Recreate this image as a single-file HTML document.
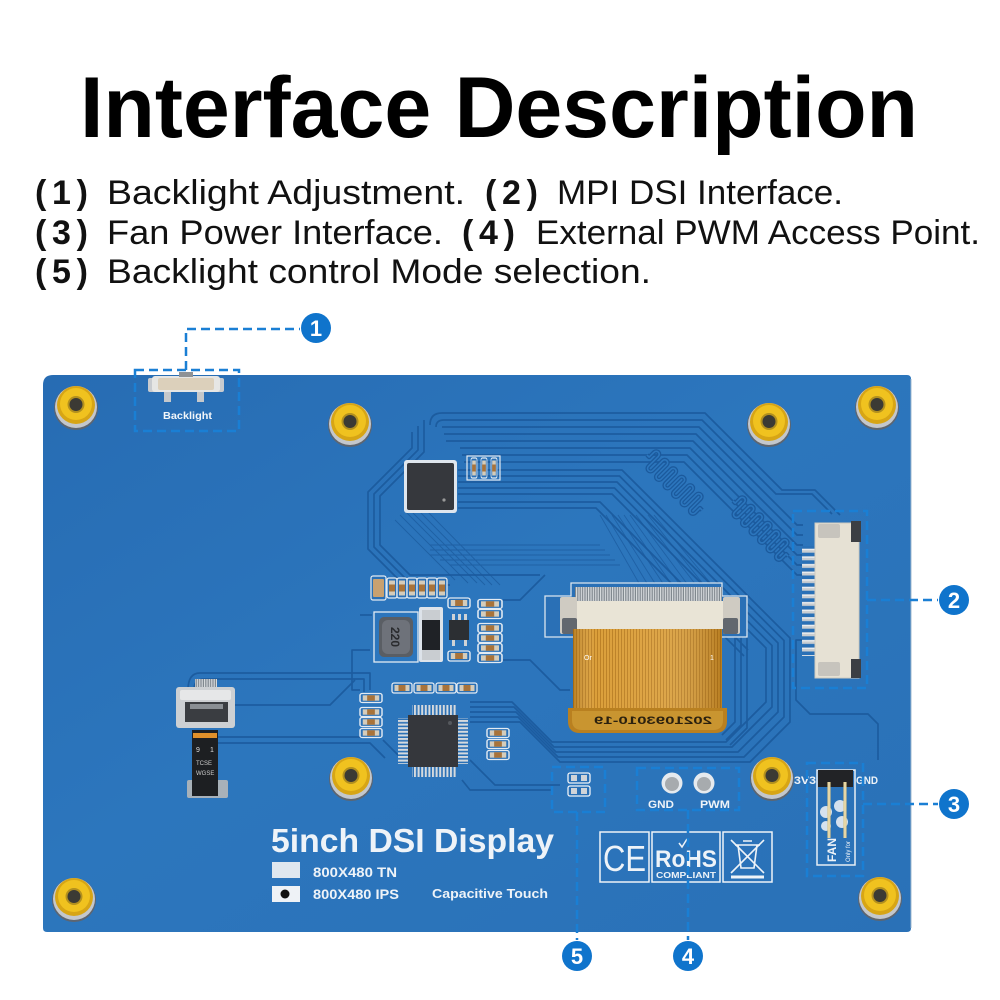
<!DOCTYPE html>
<html><head><meta charset="utf-8">
<style>html,body{margin:0;padding:0;background:#fff}svg{display:block}</style>
</head>
<body>
<svg width="1000" height="1000" viewBox="0 0 1000 1000" xmlns="http://www.w3.org/2000/svg" font-family="'Liberation Sans', sans-serif">
<defs>
  <linearGradient id="bg" x1="0" y1="0" x2="1" y2="1">
    <stop offset="0" stop-color="#276cb3"/>
    <stop offset="0.45" stop-color="#2c76bd"/>
    <stop offset="1" stop-color="#2a71b7"/>
  </linearGradient>
  <linearGradient id="ribShade" x1="0" x2="1" y1="0" y2="0">
    <stop offset="0" stop-color="#7a4a08" stop-opacity="0.35"/>
    <stop offset="0.15" stop-color="#fff" stop-opacity="0.05"/>
    <stop offset="0.6" stop-color="#fff" stop-opacity="0.12"/>
    <stop offset="1" stop-color="#7a4a08" stop-opacity="0.35"/>
  </linearGradient>
  <pattern id="rs" width="3" height="10" patternUnits="userSpaceOnUse">
    <rect width="3" height="10" fill="#d99a30"/><rect width="1" height="10" fill="#b87a1a"/>
  </pattern>
  <pattern id="pv" width="3.6" height="10" patternUnits="userSpaceOnUse">
    <rect width="3.6" height="10" fill="#2a70b6"/><rect width="2" height="10" fill="#d5dade"/>
  </pattern>
  <pattern id="ph" width="10" height="3.6" patternUnits="userSpaceOnUse">
    <rect width="10" height="3.6" fill="#2a70b6"/><rect width="10" height="2" fill="#d5dade"/>
  </pattern>
  <pattern id="fp" width="2.4" height="10" patternUnits="userSpaceOnUse">
    <rect width="2.4" height="10" fill="#7f868d"/><rect width="1.2" height="10" fill="#d7dbde"/>
  </pattern>
  <pattern id="cp" width="12" height="7.6" patternUnits="userSpaceOnUse">
    <rect width="12" height="7.6" fill="#2a70b6"/><rect width="12" height="4" y="1.5" fill="#c9cdd1"/><rect width="12" height="1.2" y="1.8" fill="#eef0f2"/>
  </pattern>
  <g id="so">
    <circle cx="0" cy="2" r="22" fill="#5d6570"/>
    <circle cx="0" cy="1" r="21" fill="#c3c7cc"/>
    <circle cx="0" cy="-1" r="19" fill="#d7a515"/>
    <circle cx="0" cy="-2" r="16" fill="#f0c21f"/>
    <circle cx="0" cy="-1.5" r="8.5" fill="#b3901e"/>
    <circle cx="0" cy="-1.5" r="6.5" fill="#3b3a34"/>
  </g>
  <g id="r">
    <rect x="-10" y="-5" width="20" height="10" rx="2" fill="#2a70b6" stroke="#e3ebf3" stroke-width="1.3"/>
    <rect x="-7.5" y="-3" width="15" height="6" fill="#d4ccbb"/>
    <rect x="-3.5" y="-3" width="7" height="6" fill="#a8733a"/>
  </g>
  <path id="mnd" d="M0 0 h3 v-7 a3 3 0 0 1 6 0 v14 a3 3 0 0 0 6 0 v-14 a3 3 0 0 1 6 0 v14 a3 3 0 0 0 6 0 v-14 a3 3 0 0 1 6 0 v14 a3 3 0 0 0 6 0 v-14 a3 3 0 0 1 6 0 v14 a3 3 0 0 0 6 0 v-14 a3 3 0 0 1 6 0 v14 a3 3 0 0 0 6 0 v-14 a3 3 0 0 1 6 0 v14 a3 3 0 0 0 6 0 v-7 h3"/>
</defs>

<!-- Title -->
<text x="80" y="137" font-size="86" font-weight="bold" fill="#000" textLength="838" lengthAdjust="spacingAndGlyphs">Interface Description</text>

<!-- Description lines -->
<g font-size="34" fill="#111">
  <text x="35" y="204" font-weight="bold" textLength="53" lengthAdjust="spacing">(1)</text>
  <text x="107" y="204" textLength="358" lengthAdjust="spacingAndGlyphs">Backlight Adjustment.</text>
  <text x="485" y="204" font-weight="bold" textLength="53" lengthAdjust="spacing">(2)</text>
  <text x="557" y="204" textLength="286" lengthAdjust="spacingAndGlyphs">MPI DSI Interface.</text>

  <text x="35" y="244" font-weight="bold" textLength="53" lengthAdjust="spacing">(3)</text>
  <text x="107" y="244" textLength="336" lengthAdjust="spacingAndGlyphs">Fan Power Interface.</text>
  <text x="462" y="244" font-weight="bold" textLength="53" lengthAdjust="spacing">(4)</text>
  <text x="536" y="244" textLength="444" lengthAdjust="spacingAndGlyphs">External PWM Access Point.</text>

  <text x="35" y="283" font-weight="bold" textLength="53" lengthAdjust="spacing">(5)</text>
  <text x="107" y="283" textLength="544" lengthAdjust="spacingAndGlyphs">Backlight control Mode selection.</text>
</g>

<!-- Board -->
<path d="M53 375 H907 Q911 375 911 379 V928 Q911 932 907 932 H47 Q43 932 43 928 V385 Q43 375 53 375 Z" fill="url(#bg)"/>
<path d="M911 379 V928" stroke="#9fb8cf" stroke-width="1"/>

<!-- Traces -->
<g fill="none" stroke="#1b5a9d" stroke-width="1.7" stroke-linejoin="round" opacity="0.9">
  <path d="M430 425 Q430 413 442 413 H705 L782 490 H815 L840 515"/>
  <path d="M436 427 Q436 420 444 420 H702 L776 494 H812 L832 514"/>
  <path d="M442 427 H699 L797 525 H803"/>
  <path d="M444 434 H696 L797 535 H803"/>
  <path d="M446 441 H693 L797 545 H803"/>
  <path d="M460 448 H690 L797 555 H803"/>
  <path d="M462 455 H687 L797 565 H803"/>
  <path d="M464 462 H684 L797 575 H803"/>
  <path d="M458 470 H622 L790 638 V722 L750 762 H560 L520 722 H470"/>
  <path d="M458 476 H619.5 L784 640.5 V717 L744 757 H558 L518 717 H470"/>
  <path d="M458 482 H617 L778 643 V712 L738 752 H556 L516 712 H470"/>
  <path d="M458 488 H614.5 L772 645.5 V707 L732 747 H554 L514 707 H470"/>
  <path d="M458 494 H612 L766 648 V702 L726 742 H552 L512 702 H470"/>
  <path d="M458 502 H600 L748 650"/>
  <path d="M458 508 H596 L744 656"/>
  <path d="M424 420 V452 L380 496 V545 L410 575 H540"/>
  <path d="M418 426 V450 L374 494 V547 L406 579"/>
  <path d="M412 432 V448 L368 492 V549 L404 585 H450"/>
  <path d="M735 637 V722 L722 735"/>
  <path d="M741 637 V725 L726 740"/>
  <path d="M747 637 V728 L730 745"/>
  <path d="M803 640 H796 L796 700 L810 714 H868 L878 724 V760"/>
  <path d="M188 690 Q188 673 200 673 H370 V690"/>
  <path d="M194 690 Q194 679 204 679 H364 V692"/>
  <path d="M218 737 H370"/>
  <path d="M218 743 H370 L385 758"/>
  <path d="M235 705 H330 L355 680"/>
  <path d="M383 740 L398 755 H402"/>
  <path d="M470 760 L495 785 H560"/>
  <path d="M462 780 L470 790 H552"/>
  <path d="M360 690 H352 V650 H370"/>
  <path d="M360 615 H372"/>
  <path d="M503 600 H520 L545 575"/>
  <path d="M503 660 H530 L560 690 H570"/>
</g>
<!-- fan-out fine lines -->
<g stroke="#1b5a9d" stroke-width="0.9" opacity="0.75">
  <path d="M395 520 L455 580"/><path d="M400 515 L468 583"/><path d="M406 512 L477 583"/>
  <path d="M412 512 L485 585"/><path d="M420 512 L492 585"/><path d="M428 512 L500 585"/>
  <path d="M600 515 L640 585"/><path d="M606 515 L648 585"/><path d="M612 515 L656 585"/>
  <path d="M618 515 L664 585"/><path d="M624 515 L672 585"/><path d="M630 515 L680 585"/>
  <path d="M636 515 L688 585"/><path d="M642 515 L696 585"/><path d="M648 515 L704 585"/>
  <path d="M654 515 L712 585"/><path d="M430 545 H600"/><path d="M430 550 H605"/><path d="M430 555 H610"/>
  <path d="M440 560 H615"/><path d="M450 565 H620"/>
</g>
<!-- serpentines (rounded meanders) -->
<g fill="none" stroke-linejoin="round">
  <use href="#mnd" transform="translate(647,455) rotate(45)" stroke="#1b5a9d" stroke-width="4.2"/>
  <use href="#mnd" transform="translate(647,455) rotate(45)" stroke="#2c76bd" stroke-width="1.6"/>
  <use href="#mnd" transform="translate(733,501) rotate(45)" stroke="#1b5a9d" stroke-width="4.2"/>
  <use href="#mnd" transform="translate(733,501) rotate(45)" stroke="#2c76bd" stroke-width="1.6"/>
</g>

<!-- Standoffs -->
<use href="#so" x="76" y="406"/>
<use href="#so" x="350" y="423"/>
<use href="#so" x="769" y="423"/>
<use href="#so" x="877" y="406"/>
<use href="#so" x="351" y="777"/>
<use href="#so" x="772" y="777"/>
<use href="#so" x="880" y="897"/>
<use href="#so" x="74" y="898"/>

<!-- Backlight switch -->
<rect x="164" y="391" width="7" height="11" fill="#c5c8cb"/>
<rect x="197" y="391" width="7" height="11" fill="#c5c8cb"/>
<rect x="148" y="378" width="76" height="14" rx="2" fill="#c8cbcf"/>
<rect x="152" y="376" width="68" height="16" rx="3" fill="#e6e6e4"/>
<rect x="158" y="378" width="56" height="12" rx="2" fill="#dcd0bb"/>
<rect x="179" y="372" width="14" height="5" fill="#8f9295"/>
<text x="163" y="419" font-size="10" font-weight="bold" fill="#f2f6fa" textLength="49" lengthAdjust="spacingAndGlyphs">Backlight</text>

<!-- QFN chip -->
<rect x="404" y="460" width="53" height="53" rx="3" fill="#dfe6ee"/>
<rect x="407" y="463" width="47" height="47" rx="2" fill="#36383d"/>
<circle cx="444" cy="500" r="1.6" fill="#999"/>
<rect x="467" y="456" width="33" height="24" fill="none" stroke="#e3ebf3" stroke-width="1.2"/>
<use href="#r" transform="translate(474,468) rotate(90) scale(1,0.6)"/>
<use href="#r" transform="translate(484,468) rotate(90) scale(1,0.6)"/>
<use href="#r" transform="translate(494,468) rotate(90) scale(1,0.6)"/>

<!-- Main FPC connector -->
<path d="M545 596 H571 V583 H722 V596 H747 V637 H545 Z" fill="#2a70b6" stroke="#dbe5ef" stroke-width="1.3"/>
<rect x="575" y="587" width="147" height="15" fill="url(#fp)"/>
<rect x="560" y="601" width="180" height="28" fill="#e9e4d6"/>
<rect x="560" y="597" width="17" height="37" rx="2" fill="#cfcbc2"/>
<rect x="723" y="597" width="17" height="37" rx="2" fill="#cfcbc2"/>
<rect x="562" y="618" width="15" height="16" rx="2" fill="#62676e"/>
<rect x="723" y="618" width="15" height="16" rx="2" fill="#62676e"/>

<!-- Ribbon -->
<rect x="573" y="629" width="149" height="80" fill="url(#rs)"/>
<rect x="573" y="629" width="149" height="80" fill="url(#ribShade)"/>
<path d="M568 708 H727 V721 Q727 733 715 733 H580 Q568 733 568 721 Z" fill="#b98020"/>
<path d="M572 711 H723 V720 Q723 730 713 730 H582 Q572 730 572 720 Z" fill="#c99530"/>
<text transform="translate(712,724) scale(-1,1)" font-size="11" font-weight="bold" fill="#2b210f" textLength="118" lengthAdjust="spacingAndGlyphs">2021093010-19</text>
<text x="584" y="660" font-size="7" fill="#fff">Or</text>
<text x="710" y="660" font-size="7" fill="#fff">1</text>

<!-- Top small row -->
<rect x="371" y="576" width="15" height="24" rx="2" fill="#2a70b6" stroke="#e3ebf3" stroke-width="1.2"/>
<rect x="373" y="579" width="11" height="18" rx="1" fill="#c9a170"/>
<use href="#r" transform="translate(392,588) rotate(90)"/>
<use href="#r" transform="translate(402,588) rotate(90)"/>
<use href="#r" transform="translate(412,588) rotate(90)"/>
<use href="#r" transform="translate(422,588) rotate(90)"/>
<use href="#r" transform="translate(432,588) rotate(90)"/>
<use href="#r" transform="translate(442,588) rotate(90)"/>

<!-- Inductor -->
<rect x="374" y="612" width="44" height="50" fill="none" stroke="#e3ebf3" stroke-width="1.3"/>
<rect x="379" y="617" width="34" height="40" rx="5" fill="#5a5e64"/>
<rect x="382" y="620" width="28" height="34" rx="6" fill="#6e727a"/>
<text transform="translate(391,627) rotate(90)" font-size="12" font-weight="bold" fill="#2a2b2e">220</text>
<!-- Diode -->
<rect x="419" y="607" width="24" height="55" rx="2" fill="#dde3ea"/>
<rect x="422" y="610" width="18" height="11" fill="#c9cdd1"/>
<rect x="422" y="620" width="18" height="30" fill="#1f2226"/>
<rect x="422" y="650" width="18" height="10" fill="#c9cdd1"/>
<!-- SOT -->
<rect x="452" y="614" width="3" height="6" fill="#cfd3d6"/><rect x="458" y="614" width="3" height="6" fill="#cfd3d6"/><rect x="464" y="614" width="3" height="6" fill="#cfd3d6"/>
<rect x="452" y="640" width="3" height="6" fill="#cfd3d6"/><rect x="464" y="640" width="3" height="6" fill="#cfd3d6"/>
<rect x="449" y="620" width="20" height="20" fill="#2c2f33"/>
<use href="#r" transform="translate(459,603) scale(1.1,1)"/>
<use href="#r" transform="translate(459,656) scale(1.1,1)"/>
<use href="#r" transform="translate(490,604) scale(1.2,0.9)"/>
<use href="#r" transform="translate(490,614) scale(1.2,0.9)"/>
<use href="#r" transform="translate(490,628) scale(1.2,0.9)"/>
<use href="#r" transform="translate(490,638) scale(1.2,0.9)"/>
<use href="#r" transform="translate(490,648) scale(1.2,0.9)"/>
<use href="#r" transform="translate(490,658) scale(1.2,0.9)"/>

<!-- QFP chip -->
<use href="#r" transform="translate(402,688)"/>
<use href="#r" transform="translate(424,688)"/>
<use href="#r" transform="translate(446,688)"/>
<use href="#r" transform="translate(467,688)"/>
<use href="#r" transform="translate(371,698) scale(1.1,0.9)"/>
<use href="#r" transform="translate(371,712) scale(1.1,0.9)"/>
<use href="#r" transform="translate(371,722) scale(1.1,0.9)"/>
<use href="#r" transform="translate(371,733) scale(1.1,0.9)"/>
<use href="#r" transform="translate(498,733) scale(1.1,0.9)"/>
<use href="#r" transform="translate(498,744) scale(1.1,0.9)"/>
<use href="#r" transform="translate(498,755) scale(1.1,0.9)"/>
<rect x="412" y="705" width="44" height="10" fill="url(#pv)"/>
<rect x="412" y="767" width="44" height="10" fill="url(#pv)"/>
<rect x="398" y="718" width="10" height="46" fill="url(#ph)"/>
<rect x="458" y="718" width="10" height="46" fill="url(#ph)"/>
<rect x="408" y="715" width="50" height="52" fill="#35373c"/>
<circle cx="450" cy="723" r="2" fill="#55585d"/>

<!-- Small FPC left -->
<rect x="187" y="780" width="41" height="18" rx="2" fill="#a8b1b9"/>
<rect x="195" y="679" width="22" height="9" fill="url(#fp)"/>
<rect x="176" y="687" width="59" height="41" rx="3" fill="#cdd0d3"/>
<rect x="180" y="690" width="51" height="10" rx="2" fill="#e6e7e8"/>
<rect x="185" y="702" width="43" height="20" fill="#3a3d41"/>
<rect x="190" y="704" width="33" height="5" fill="#8a8f94"/>
<rect x="192" y="730" width="26" height="66" fill="#1d1f22"/>
<rect x="193" y="733" width="24" height="5" fill="#e0902a"/>
<text x="196" y="752" font-size="7" fill="#ddd">9</text><text x="210" y="752" font-size="7" fill="#ddd">1</text>
<text x="196" y="765" font-size="6" fill="#ccc">TCSE</text>
<text x="196" y="775" font-size="6" fill="#ccc">WGSE</text>

<!-- Connector 2 (right) -->
<rect x="802" y="546" width="14" height="110" fill="url(#cp)"/>
<rect x="815" y="523" width="44" height="155" fill="#e6e1d4"/>
<rect x="815" y="523" width="44" height="155" fill="none" stroke="#cfcac0" stroke-width="1"/>
<rect x="818" y="524" width="22" height="14" rx="2" fill="#c7c4bd"/>
<rect x="818" y="662" width="22" height="14" rx="2" fill="#c7c4bd"/>
<rect x="851" y="521" width="10" height="21" fill="#3c3f44"/>
<rect x="851" y="659" width="10" height="19" fill="#3c3f44"/>

<!-- Fan header -->
<rect x="817" y="770" width="38" height="95" fill="none" stroke="#e8eef4" stroke-width="1.5"/>
<g fill="#e8eef4" opacity="0.9">
  <circle cx="826" cy="812" r="6"/><circle cx="840" cy="806" r="6"/><circle cx="842" cy="822" r="6"/><circle cx="826" cy="826" r="5"/>
</g>
<rect x="818" y="770" width="35" height="17" fill="#222326"/>
<path d="M829 782 V838 M845 782 V838" stroke="#d8c48a" stroke-width="3.2"/>
<path d="M829 782 V838 M845 782 V838" stroke="#f3e7c0" stroke-width="1"/>
<text transform="translate(836,862) rotate(-90)" font-size="12" font-weight="bold" fill="#eef3f8">FAN</text>
<text transform="translate(850,862) rotate(-90)" font-size="6" fill="#eef3f8">Only for</text>
<text x="794" y="784" font-size="11" font-weight="bold" fill="#eef3f8" textLength="22" lengthAdjust="spacingAndGlyphs">3V3</text>
<text x="856" y="784" font-size="11" font-weight="bold" fill="#eef3f8" textLength="22" lengthAdjust="spacingAndGlyphs">GND</text>

<!-- GND/PWM pads -->
<circle cx="672" cy="783" r="10.5" fill="#e6eaee"/><circle cx="672" cy="784" r="7" fill="#a7abae"/>
<circle cx="704" cy="783" r="10.5" fill="#e6eaee"/><circle cx="704" cy="784" r="7" fill="#a7abae"/>
<text x="648" y="808" font-size="11" font-weight="bold" fill="#eef3f8" textLength="26" lengthAdjust="spacingAndGlyphs">GND</text>
<text x="700" y="808" font-size="11" font-weight="bold" fill="#eef3f8" textLength="30" lengthAdjust="spacingAndGlyphs">PWM</text>

<!-- Mode selection pads -->
<rect x="568" y="773" width="22" height="10" rx="2" fill="#2a70b6" stroke="#eef3f8" stroke-width="1.3"/>
<rect x="571" y="775" width="6" height="6" fill="#d0d4d8"/><rect x="581" y="775" width="6" height="6" fill="#d0d4d8"/>
<rect x="568" y="786" width="22" height="10" rx="2" fill="#2a70b6" stroke="#eef3f8" stroke-width="1.3"/>
<rect x="571" y="788" width="6" height="6" fill="#d0d4d8"/><rect x="581" y="788" width="6" height="6" fill="#d0d4d8"/>

<!-- Silkscreen product text -->
<text x="271" y="852" font-size="33" font-weight="bold" fill="#eef3f8" textLength="283" lengthAdjust="spacingAndGlyphs">5inch DSI Display</text>
<rect x="272" y="862" width="28" height="16" fill="#dfe7ef"/>
<rect x="272" y="886" width="28" height="16" fill="#eef2f6"/>
<circle cx="285" cy="894" r="4.5" fill="#111"/>
<text x="313" y="877" font-size="14" font-weight="bold" fill="#eef3f8" textLength="84" lengthAdjust="spacingAndGlyphs">800X480 TN</text>
<text x="313" y="899" font-size="14" font-weight="bold" fill="#eef3f8" textLength="86" lengthAdjust="spacingAndGlyphs">800X480 IPS</text>
<text x="432" y="898" font-size="13" font-weight="bold" fill="#eef3f8" textLength="116" lengthAdjust="spacingAndGlyphs">Capacitive Touch</text>

<!-- CE / RoHS / WEEE -->
<g fill="none" stroke="#eef3f8" stroke-width="1.5">
  <rect x="600" y="832" width="49" height="50"/>
  <rect x="652" y="832" width="68" height="50"/>
  <rect x="723" y="832" width="49" height="50"/>
</g>
<text x="603" y="871" font-size="36" fill="#eef3f8" textLength="43" lengthAdjust="spacingAndGlyphs">CE</text>
<text x="655" y="867" font-size="24" font-weight="bold" fill="#eef3f8" textLength="62" lengthAdjust="spacingAndGlyphs">RoHS</text>
<path d="M679 843 l3 4 l5 -8" stroke="#eef3f8" stroke-width="1.5" fill="none"/>
<text x="656" y="878" font-size="8" font-weight="bold" fill="#eef3f8" textLength="60" lengthAdjust="spacingAndGlyphs">COMPLIANT</text>
<g stroke="#eef3f8" stroke-width="1.6" fill="none">
  <path d="M735 845 H760 M738 845 L741 868 H754 L757 845 M743 841 H752"/>
  <path d="M731 840 L764 873 M764 840 L731 873"/>
  <path d="M731 877 H764" stroke-width="3"/>
</g>

<!-- Callouts -->
<g fill="none" stroke="#1a7fd4" stroke-width="2.5" stroke-dasharray="9 5">
  <rect x="135" y="370" width="104" height="61"/>
  <path d="M186 370 V329 H300"/>
  <rect x="793" y="511" width="74" height="177"/>
  <path d="M867 600 H938"/>
  <rect x="807" y="763" width="56" height="113"/>
  <path d="M863 804 H938"/>
  <rect x="637" y="768" width="102" height="42"/>
  <path d="M688 810 V940"/>
  <rect x="552" y="767" width="53" height="45"/>
  <path d="M577 812 V940"/>
</g>
<g fill="#0f74cc">
  <circle cx="316" cy="328" r="15"/>
  <circle cx="954" cy="600" r="15"/>
  <circle cx="954" cy="804" r="15"/>
  <circle cx="688" cy="956" r="15"/>
  <circle cx="577" cy="956" r="15"/>
</g>
<g fill="#fff" font-size="22" font-weight="bold" text-anchor="middle">
  <text x="316" y="336">1</text>
  <text x="954" y="608">2</text>
  <text x="954" y="812">3</text>
  <text x="688" y="964">4</text>
  <text x="577" y="964">5</text>
</g>
</svg>
</body>
</html>
